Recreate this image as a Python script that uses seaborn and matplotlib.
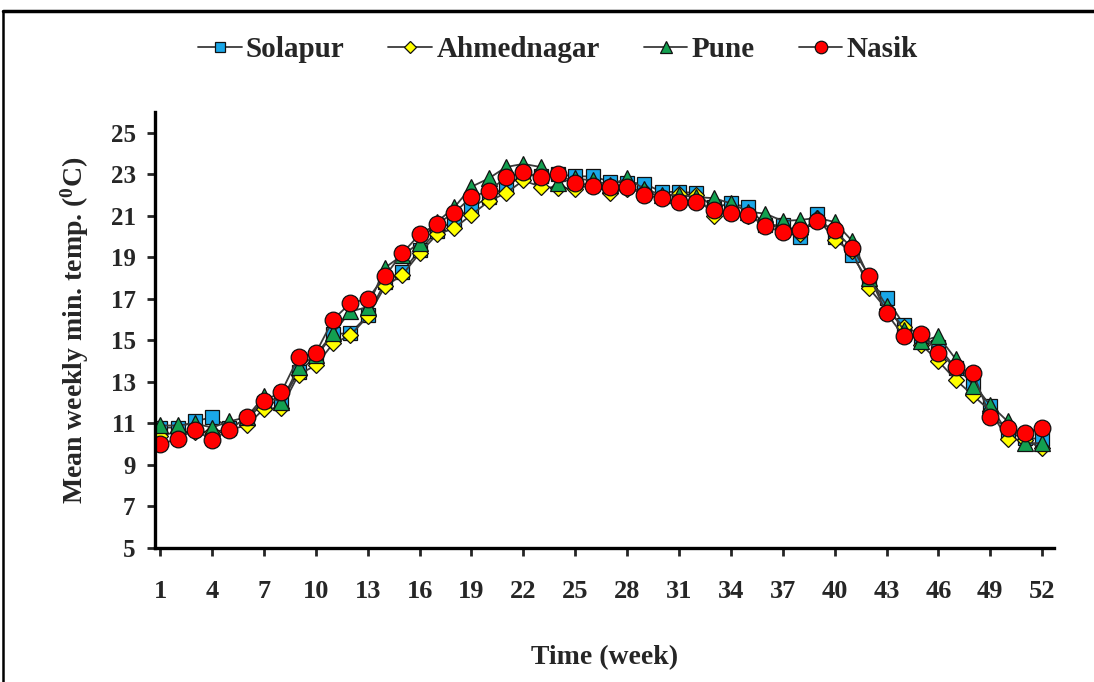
import numpy as np
import pandas as pd
import matplotlib
matplotlib.use("Agg")
import matplotlib.pyplot as plt
import seaborn as sns
from matplotlib.lines import Line2D

weeks = list(range(1, 53))

solapur = [10.8, 10.8, 11.1, 11.3, 10.8, 11.2, 12.0, 12.0, 13.5, 14.2,
           15.3, 15.35, 16.2, 17.8, 18.3, 19.35, 20.25, 20.8, 21.4, 21.9,
           22.4, 23.0, 22.9, 23.0, 22.9, 22.9, 22.65, 22.6, 22.55, 22.15,
           22.15, 22.1, 21.4, 21.6, 21.4, 20.55, 20.55, 20.0, 21.1, 20.0,
           19.1, 17.8, 17.05, 15.75, 15.2, 14.7, 13.65, 12.95, 11.85, 10.55,
           10.3, 10.25]
ahmednagar = [10.4, 10.6, 10.6, 10.6, 10.7, 10.9, 11.7, 11.75, 13.35, 13.8,
              14.85, 15.25, 16.15, 17.6, 18.15, 19.2, 20.1, 20.4, 21.05, 21.7,
              22.1, 22.7, 22.4, 22.35, 22.3, 22.5, 22.1, 22.3, 22.2, 21.9,
              22.05, 22.0, 21.0, 21.2, 21.0, 20.6, 20.4, 20.1, 20.9, 19.85,
              19.3, 17.5, 16.5, 15.65, 14.8, 14.0, 13.1, 12.35, 11.6, 10.25,
              10.2, 9.8]
pune = [10.9, 10.9, 11.0, 10.8, 11.1, 11.3, 12.3, 12.05, 13.7, 14.3,
        15.35, 16.4, 16.6, 18.5, 19.1, 19.7, 20.7, 21.4, 22.4, 22.8,
        23.35, 23.5, 23.35, 22.6, 22.8, 22.7, 22.5, 22.8, 22.3, 22.0,
        22.0, 21.9, 21.85, 21.6, 21.2, 21.1, 20.75, 20.8, 20.9, 20.7,
        19.8, 18.0, 16.65, 15.5, 14.95, 15.2, 14.1, 12.8, 11.9, 11.1,
        10.05, 10.05]
nasik = [10.0, 10.25, 10.7, 10.2, 10.7, 11.3, 12.1, 12.5, 14.2, 14.4,
         16.0, 16.8, 17.0, 18.1, 19.2, 20.1, 20.6, 21.15, 21.9, 22.2,
         22.85, 23.1, 22.85, 23.0, 22.6, 22.45, 22.4, 22.4, 22.0, 21.85,
         21.65, 21.65, 21.3, 21.15, 21.05, 20.5, 20.2, 20.3, 20.75, 20.3,
         19.45, 18.1, 16.3, 15.2, 15.3, 14.4, 13.7, 13.45, 11.3, 10.8,
         10.55, 10.8]

series_names = ["Solapur", "Ahmednagar", "Pune", "Nasik"]
series_values = [solapur, ahmednagar, pune, nasik]
x_tick_labels = list(range(1, 53, 3))
y_tick_labels = list(range(5, 26, 2))

sns.set_style("white")
plt.rcParams["font.family"] = ["Liberation Serif", "DejaVu Serif"]
plt.rcParams["font.weight"] = "bold"
plt.rcParams["mathtext.fontset"] = "custom"
plt.rcParams["mathtext.rm"] = "Liberation Serif:bold"
plt.rcParams["mathtext.it"] = "Liberation Serif:bold"
plt.rcParams["mathtext.bf"] = "Liberation Serif:bold"

fig = plt.figure(figsize=(10.94, 6.82), dpi=100)
ax = fig.add_axes([0.1417, 0.1965, 0.822, 0.6393])

styles = {
    "Solapur": dict(marker="s", mfc="#1AA7E8", ms=10),
    "Ahmednagar": dict(marker="D", mfc="#FFFF00", ms=8),
    "Pune": dict(marker="^", mfc="#13A050", ms=11),
    "Nasik": dict(marker="o", mfc="#FF0000", ms=12),
}

df = pd.DataFrame({"week": weeks})
for name, vals in zip(series_names, series_values):
    df[name] = vals

for name in series_names:
    st = styles[name]
    sns.lineplot(data=df, x="week", y=name, ax=ax, color="#3a3a3a", lw=1.3,
                 marker=st["marker"], markersize=st["ms"],
                 markerfacecolor=st["mfc"], markeredgecolor="#111111",
                 markeredgewidth=0.9, label=name)

ax.set_xlim(0.7, 52.7)
ax.set_ylim(5, 26)
ax.set_xticks(x_tick_labels)
ax.set_yticks(y_tick_labels)
ax.set_xticklabels([str(v) for v in x_tick_labels], fontsize=19, fontweight="bold")
ax.set_yticklabels([str(v) for v in y_tick_labels], fontsize=18, fontweight="bold")
ax.tick_params(axis="x", direction="out", length=6, width=2, pad=17, bottom=True)
ax.tick_params(axis="y", direction="out", length=6, width=2, pad=8, left=True)
for s in ["top", "right"]:
    ax.spines[s].set_visible(False)
for s in ["left", "bottom"]:
    ax.spines[s].set_linewidth(2.4)
    ax.spines[s].set_color("black")

ax.set_xlabel("Time (week)", fontsize=20, fontweight="bold", labelpad=30)
ax.set_ylabel(r"Mean weekly min. temp. ($^{0}$C)", fontsize=20,
              fontweight="bold", labelpad=14)

handles, labels = ax.get_legend_handles_labels()
ax.legend(handles, labels, loc="center", bbox_to_anchor=(0.51, 0.927),
          bbox_transform=fig.transFigure, ncol=4, frameon=False,
          prop={"family": "Liberation Serif", "weight": "bold", "size": 21},
          handlelength=1.5, handletextpad=0.15, columnspacing=1.5,
          markerscale=0.75)

fig.add_artist(Line2D([3 / 1094, 1.0], [1 - 11 / 682, 1 - 11 / 682],
                      transform=fig.transFigure, color="black", lw=2.5))
fig.add_artist(Line2D([3 / 1094, 3 / 1094], [0.0, 1 - 11 / 682],
                      transform=fig.transFigure, color="black", lw=1.8))

fig.savefig("out.png", dpi=100)
